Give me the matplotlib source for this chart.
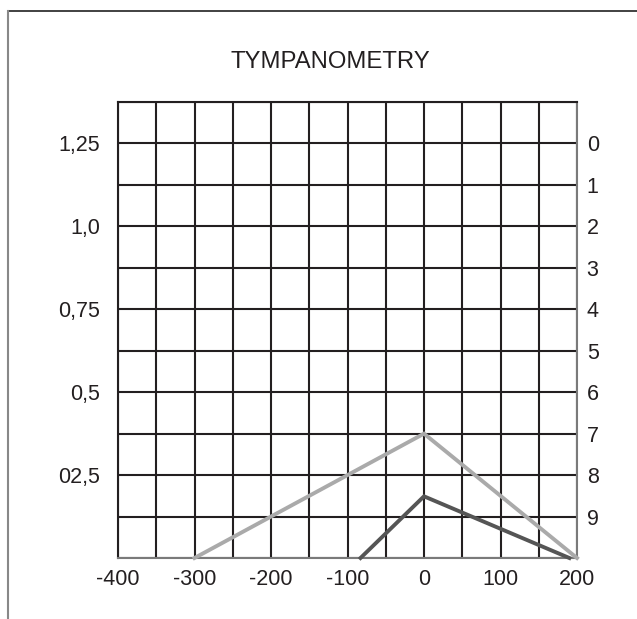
import matplotlib
matplotlib.use("Agg")
import matplotlib.pyplot as plt
from matplotlib.lines import Line2D
import numpy as np

plt.rcParams['font.family'] = ['Liberation Sans', 'DejaVu Sans']

# Data
x_ticks = [-400, -300, -200, -100, 0, 100, 200]
x_labels = ["-400", "-300", "-200", "-100", "0", "100", "200"]
left_ticks = [0.25, 0.5, 0.75, 1.0, 1.25]
left_labels = ["02,5", "0,5", "0,75", "1,0", "1,25"]
right_vals = [0, 1, 2, 3, 4, 5, 6, 7, 8, 9]

pressure_light = [-300, 0, 200]
compliance_light = [0.0, 0.375, 0.0]
pressure_dark = [-83, 0, 190]
compliance_dark = [0.0, 0.186, 0.0]

fig = plt.figure(figsize=(6.37, 6.19), dpi=100)
ax = fig.add_axes([118/637, 1 - 558/619, (577 - 118)/637, (558 - 102)/619])

ax.set_xlim(-400, 200)
ax.set_ylim(0, 1.375)

ax.set_xticks(x_ticks)
ax.set_xticklabels(x_labels)
ax.set_xticks(np.arange(-400, 201, 50), minor=True)
ax.set_yticks(left_ticks)
ax.set_yticklabels(left_labels)
ax.set_yticks(np.arange(0, 1.376, 0.125), minor=True)

grid_col = '#231f20'
ax.grid(which='both', color=grid_col, linewidth=1.5)
ax.set_axisbelow(True)
ax.tick_params(which='both', length=0)
ax.tick_params(axis='x', labelsize=15.5, pad=8, colors='#231f20')
ax.tick_params(axis='y', labelsize=15.5, pad=13, colors='#231f20')

for side in ['top', 'left']:
    ax.spines[side].set_color(grid_col)
    ax.spines[side].set_linewidth(1.5)
for side in ['right', 'bottom']:
    ax.spines[side].set_color('#7a7a7a')
    ax.spines[side].set_linewidth(1.5)

ax2 = ax.twinx()
ax2.set_ylim(ax.get_ylim())
ax2.set_yticks([1.25 - 0.125 * v for v in right_vals])
ax2.set_yticklabels([str(v) for v in right_vals])
ax2.tick_params(length=0, labelsize=15.5, pad=7, colors='#231f20')
for s in ax2.spines.values():
    s.set_visible(False)

ax.plot(pressure_light, compliance_light, color='#aaaaaa', linewidth=2.8,
        solid_joinstyle='miter', clip_on=False, zorder=3)
ax.plot(pressure_dark, compliance_dark, color='#555555', linewidth=2.8,
        solid_joinstyle='miter', clip_on=False, zorder=3)

fig.text(330/637, 1 - 62/619, "TYMPANOMETRY", ha='center', va='center',
         fontsize=17.2, color='#231f20')

# outer frame (top and left)
fig.add_artist(Line2D([8/637, 1], [1 - 11/619, 1 - 11/619],
                      transform=fig.transFigure, color='#333333', linewidth=1.3))
fig.add_artist(Line2D([8/637, 8/637], [0, 1 - 11/619],
                      transform=fig.transFigure, color='#888888', linewidth=1.5))

fig.savefig("out.png", dpi=100)
